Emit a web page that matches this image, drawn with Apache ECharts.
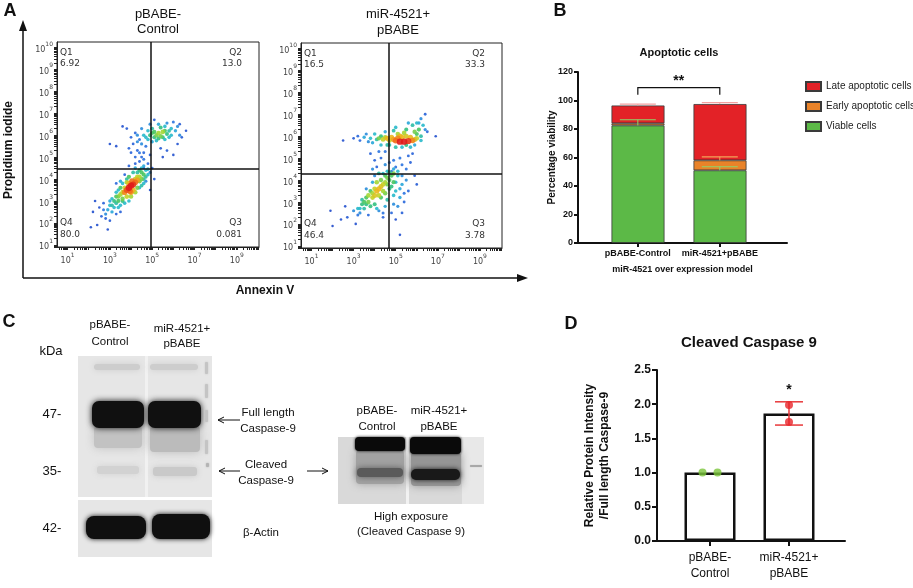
<!DOCTYPE html>
<html><head><meta charset="utf-8">
<script src="https://cdn.jsdelivr.net/npm/echarts@6/dist/echarts.min.js"></script>
<style>html,body{margin:0;padding:0;background:#fff}#c{width:913px;height:588px}</style>
</head><body><div id="c"></div>
<script>
// ---------- DATA ----------
// Panel A: flow cytometry events, [log10 Annexin V, log10 PI, relative density]
const flowControl = [
[2.1,1.8,0.05],[2.4,1.9,0.05],[2.9,1.7,0.05],[2.2,2.5,0.05],[2.5,2.7,0.05],[2.6,2.3,0.1],[2.8,2.2,0.1],[2.7,2.9,0.1],[3.3,2.4,0.1],[3.5,2.5,0.1],[3.0,2.1,0.08],[4.9,3.5,0.05],[5.1,4.0,0.08],[5.0,4.5,0.1],[3.9,4.6,0.1],[3.3,3.8,0.12],[4.8,4.7,0.12],[3.0,5.6,0.05],[3.3,5.5,0.05],[3.6,6.4,0.05],[3.8,6.3,0.08],[4.0,5.2,0.1],[4.2,4.7,0.1],[4.1,5.6,0.1],[4.3,5.3,0.12],[4.5,5.0,0.12],[4.4,4.8,0.1],[4.6,5.2,0.12],[4.7,5.5,0.15],[5.5,5.0,0.05],[5.7,5.3,0.08],[6.0,5.1,0.05],[6.3,6.5,0.08],[6.4,5.9,0.08],[6.6,6.2,0.05],[6.2,5.6,0.06],[5.1,6.7,0.1],[4.2,6.1,0.12],[4.4,5.8,0.15],[4.0,5.9,0.1],[4.6,4.5,0.1],[3.7,4.2,0.1],[5.4,5.4,0.08],[2.3,3.0,0.05],
[2.9,2.6,0.25],[3.0,2.8,0.3],[3.1,3.1,0.3],[3.2,2.7,0.3],[3.7,2.9,0.3],[3.6,3.8,0.3],[4.4,3.6,0.3],[4.6,3.8,0.3],[4.7,4.4,0.3],[4.8,4.2,0.3],[4.5,4.5,0.3],[4.3,4.3,0.35],[3.4,3.5,0.3],[3.9,3.0,0.3],[4.1,4.3,0.35],[3.5,2.8,0.3],[3.3,2.9,0.35],[4.6,4.0,0.35],[3.8,4.0,0.35],
[4.6,6.0,0.3],[4.8,6.2,0.3],[5.0,6.3,0.35],[5.9,6.3,0.3],[6.1,6.2,0.25],[5.8,5.9,0.3],[5.0,5.7,0.25],[4.9,6.5,0.2],[5.3,6.5,0.25],[5.7,6.55,0.2],[6.0,6.6,0.15],[4.7,5.9,0.3],[5.2,5.75,0.3],[5.6,5.8,0.3],[4.5,6.3,0.2],[6.3,6.0,0.2],
[3.5,3.3,0.55],[3.6,3.1,0.5],[4.4,4.1,0.55],[4.5,4.0,0.5],[3.4,3.0,0.45],[3.8,3.85,0.55],[4.2,3.4,0.55],[4.6,4.2,0.45],[3.3,3.2,0.45],[4.0,3.2,0.55],[3.7,3.6,0.6],[4.3,4.1,0.6],
[5.3,6.1,0.55],[5.5,6.15,0.55],[5.2,6.0,0.5],[5.6,6.2,0.45],[5.4,5.95,0.5],[5.1,6.15,0.45],
[3.7,3.4,0.8],[4.3,3.95,0.75],[3.8,3.5,0.9],[4.2,3.85,0.85],[3.95,3.45,0.85],[4.05,3.9,0.85],[4.1,3.75,0.95],[3.9,3.6,1],[4.0,3.7,1],
[3.2,3.0,0.4],[3.4,3.2,0.5],[3.5,3.6,0.45],[3.6,3.4,0.6],[3.9,3.8,0.7],[4.1,3.5,0.7],[4.2,4.0,0.6],[4.4,3.9,0.5],[4.5,4.3,0.45],[4.7,4.1,0.35],[4.8,4.45,0.3],[4.6,4.6,0.25],[4.9,4.3,0.2],[3.0,3.0,0.25],[2.8,2.4,0.2],[3.1,2.5,0.25],[3.4,2.7,0.3],[3.8,3.2,0.6],[4.0,3.4,0.75],[3.6,3.0,0.4],[4.3,3.6,0.5],[4.5,3.7,0.35],[3.9,4.1,0.45],[3.5,3.9,0.25],[4.2,4.5,0.25],[4.4,4.4,0.4],[3.3,3.4,0.3],[2.7,2.6,0.15],[3.1,2.8,0.35],[4.7,3.9,0.2],
[4.9,6.0,0.4],[5.1,5.9,0.4],[5.3,5.85,0.4],[5.5,5.9,0.4],[5.7,6.05,0.4],[5.8,6.2,0.35],[5.4,6.35,0.4],[5.0,6.1,0.45],[4.8,5.8,0.3],[5.6,6.4,0.3],[6.2,6.4,0.2],[4.3,6.0,0.2],[4.5,5.6,0.2],[4.3,5.7,0.2],[5.9,6.0,0.3],
[4.4,5.2,0.15],[4.6,4.9,0.15],[4.2,5.0,0.12],[3.9,5.4,0.1],[4.9,5.1,0.1]
];
const flowMiR = [
[1.9,2.6,0.03],[2.0,1.9,0.03],[2.4,2.2,0.05],[2.7,2.3,0.08],[2.6,2.8,0.05],[3.1,2.0,0.05],[5.0,2.2,0.05],[5.2,1.5,0.05],[2.5,5.8,0.05],[6.9,6.0,0.05],[3.0,5.9,0.08],[3.3,5.8,0.12],[6.4,7.0,0.1],[6.5,6.2,0.12],[5.4,3.0,0.12],[5.6,3.5,0.12],[4.8,2.5,0.12],[3.7,2.4,0.12],[5.7,4.8,0.1],[3.8,5.2,0.1],[4.1,4.6,0.1],[4.3,5.0,0.12],[4.7,4.8,0.15],[5.0,4.6,0.15],[5.2,5.0,0.15],[5.5,4.5,0.15],[4.8,4.4,0.15],[4.5,5.3,0.15],[5.9,4.2,0.1],[5.3,2.5,0.1],[4.4,2.3,0.1],[5.8,5.2,0.1],[4.0,4.9,0.1],[6.0,3.8,0.08],
[3.2,2.7,0.3],[3.3,2.5,0.2],[3.0,2.6,0.2],[5.0,3.5,0.3],[5.2,3.2,0.25],[5.3,3.8,0.25],[5.5,4.0,0.2],[5.1,2.8,0.2],[4.5,2.8,0.25],[4.2,2.6,0.2],[5.1,4.2,0.3],[4.4,4.3,0.3],[3.9,3.9,0.25],[4.0,4.2,0.2],[3.6,3.6,0.2],[4.9,4.5,0.25],[4.6,4.4,0.3],
[3.8,5.9,0.3],[3.5,5.95,0.25],[4.0,6.1,0.3],[4.3,5.6,0.3],[4.7,5.6,0.35],[5.0,5.5,0.35],[5.3,5.5,0.3],[5.7,5.5,0.3],[6.2,5.8,0.3],[6.3,6.5,0.3],[6.2,6.8,0.2],[5.8,6.5,0.35],[5.5,6.3,0.4],[4.9,6.25,0.35],[4.5,6.2,0.25],[6.0,6.6,0.3],[3.9,5.7,0.25],
[3.7,3.0,0.5],[3.6,3.2,0.45],[4.6,4.1,0.5],[4.8,4.2,0.45],[4.9,3.9,0.45],[4.7,3.6,0.4],[3.8,3.5,0.45],[4.3,3.2,0.45],[3.4,2.9,0.4],[3.5,2.7,0.35],[4.0,2.9,0.4],[4.9,4.3,0.5],[4.5,3.4,0.5],
[4.6,5.9,0.7],[4.8,5.95,0.7],[5.2,6.0,0.7],[5.5,6.0,0.65],[6.0,5.9,0.6],[4.4,5.85,0.6],[4.2,5.9,0.5],[5.9,6.2,0.5],[6.1,6.3,0.45],
[4.1,3.5,0.7],[4.2,3.6,0.7],[4.3,3.7,0.65],[4.0,3.3,0.65],[4.4,3.8,0.6],[3.9,3.2,0.6],[4.5,3.9,0.55],
[5.0,5.8,0.85],[5.8,5.8,0.8],[5.6,5.78,0.95],[5.2,5.75,1],[5.4,5.75,1],
[3.5,3.0,0.45],[3.7,3.3,0.55],[3.8,2.8,0.4],[4.0,3.6,0.6],[4.1,3.9,0.55],[4.2,3.3,0.6],[4.4,3.5,0.55],[4.6,3.8,0.5],[4.7,4.0,0.45],[4.8,3.7,0.4],[4.3,4.0,0.5],[3.9,3.4,0.55],[3.3,2.7,0.3],[3.4,3.1,0.35],[4.1,2.7,0.3],[4.6,3.1,0.35],[4.9,3.3,0.3],[5.0,3.9,0.3],[5.2,3.6,0.25],[5.3,4.2,0.2],[4.9,2.9,0.2],[4.7,4.35,0.4],[4.5,4.2,0.45],[4.2,4.3,0.35],[3.9,4.5,0.2],[3.6,2.9,0.4],[4.4,2.5,0.15],[5.1,4.4,0.3],[5.4,3.4,0.15],[3.2,2.4,0.15],
[4.5,5.95,0.55],[4.7,5.8,0.6],[4.9,5.85,0.75],[5.1,5.9,0.8],[5.3,5.95,0.7],[5.7,5.95,0.7],[5.9,5.85,0.65],[5.4,6.15,0.55],[5.1,6.1,0.55],[4.3,6.0,0.4],[4.1,5.85,0.35],[3.7,5.75,0.2],[3.6,6.1,0.2],[6.0,6.1,0.45],[6.2,6.0,0.35],[6.4,6.3,0.2],[5.6,6.6,0.25],[6.1,6.6,0.25],[5.0,6.4,0.3],[4.6,5.6,0.35],[5.5,5.6,0.4],[5.9,5.6,0.25],[3.2,6.0,0.12],
[4.5,4.7,0.2],[4.9,4.9,0.15],[5.3,4.7,0.15],[4.2,5.3,0.15],[5.6,5.1,0.12]
];
const gateControl = [4.95, 4.49];   // [Annexin V gate, PI gate] in log10
const gateMiR = [4.67, 4.27];
const quadNames = ['Q1','Q2','Q3','Q4'];
const quadControl = ['6.92','13.0','0.081','80.0'];
const quadMiR = ['16.5','33.3','3.78','46.4'];
const flowXLabels = [1,3,5,7,9];
const flowYLabels = [1,2,3,4,5,6,7,8,9,10];

// Panel B
const bCategories = ['pBABE-Control','miR-4521+pBABE'];
const viable = [82.5, 51.0];
const early = [1.5, 7.0];
const late = [12.5, 39.5];
const viableSD = [4.0, 2.5];
const earlySD = [0, 2.5];
const lateSD = [1.0, 1.0];
const bSig = [[1, 2, 109, '**']];

// Panel D
const dCategories = ['pBABE-\nControl','miR-4521+\npBABE'];
const dMean = [1.0, 1.865];
const dSD = [0, 0.17];
const dPoints = [[1.0, 1.0], [1.99, 1.74]];
const dSig = ['', '*'];

// ---------- CHART ----------
const chart = echarts.init(document.getElementById('c'));
const SANS = 'Liberation Sans, Arial, Helvetica, sans-serif';
const FLOWF = 'DejaVu Sans, sans-serif';
const byDensity = a => a.slice().sort((p,q)=>p[2]-q[2]);

function decadeTicks(min, max){
  const t=[];
  for(let n=0;n<=10;n++){ for(let k=1;k<=9;k++){ const v=n+Math.log10(k); if(v>=min&&v<=max) t.push(v);} }
  return t;
}
const supRich = {
  b:{fontSize:8, color:'#444', fontFamily:FLOWF, lineHeight:13, verticalAlign:'bottom'},
  s:{fontSize:6, color:'#444', fontFamily:FLOWF, lineHeight:13, verticalAlign:'top'}
};
const sup = v => '{b|10}{s|' + Math.round(v) + '}';

const FX = [0.5, 10.05], FY = [0.9, 10.25];
function flowXAxis(g){
  return {type:'value', gridIndex:g, min:FX[0], max:FX[1],
    axisLine:{show:true,onZero:false,lineStyle:{color:'#222',width:1}},
    axisTick:{show:true, customValues:decadeTicks(FX[0],FX[1]), length:3, lineStyle:{color:'#222'}},
    axisLabel:{customValues:flowXLabels, formatter:sup, rich:supRich, margin:5},
    splitLine:{show:false}};
}
function flowYAxis(g){
  return {type:'value', gridIndex:g, min:FY[0], max:FY[1],
    axisLine:{show:true,onZero:false,lineStyle:{color:'#222',width:1}},
    axisTick:{show:true, customValues:decadeTicks(FY[0],FY[1]), length:3, lineStyle:{color:'#222'}},
    axisLabel:{customValues:flowYLabels, formatter:sup, rich:supRich, margin:4},
    splitLine:{show:false}};
}
function flowSeries(data, gate, idx){
  return {type:'scatter', xAxisIndex:idx, yAxisIndex:idx, data:byDensity(data),
    symbolSize: v => 2.4 + v[2]*4, itemStyle:{opacity:0.9}, silent:true,
    markLine:{symbol:'none', silent:true, animation:false, label:{show:false},
      lineStyle:{color:'#111', width:1.5, type:'solid'},
      data:[{xAxis:gate[0]},{yAxis:gate[1]}]}};
}

const boldAxisName = {fontFamily:SANS, fontWeight:'bold', fontSize:9, color:'#111'};

// Panel B error bars from stacked tops
const cum1 = viable.map((v,i)=>v+early[i]);
const cum2 = cum1.map((v,i)=>v+late[i]);
const bErr = [];
viable.forEach((v,i)=>{ if(viableSD[i]>0) bErr.push([i+1, v, v+viableSD[i], 0]); });
cum1.forEach((v,i)=>{ if(earlySD[i]>0) bErr.push([i+1, v, v+earlySD[i], 1]); });
cum2.forEach((v,i)=>{ if(lateSD[i]>0) bErr.push([i+1, v, v+lateSD[i], 2]); });
const errCol = ['#8fd46a','#f2a35a','#f4a0a0'];
const bBar = {type:'bar', xAxisIndex:4, yAxisIndex:4, stack:'b', barWidth:53};

const option = {
  animation:false,
  backgroundColor:'#fff',
  grid:[
    {left:57, top:42, width:202, height:205, show:true, borderColor:'#222', borderWidth:1},
    {left:301, top:43, width:201, height:205, show:true, borderColor:'#222', borderWidth:1},
    {left:578, top:72, width:209, height:171},
    {left:657, top:370, width:188, height:171},
    {left:597, top:72, width:164, height:171}
  ],
  xAxis:[
    flowXAxis(0), flowXAxis(1),
    {type:'value', gridIndex:2, min:0.27, max:2.82,
      axisLine:{show:true,onZero:false,lineStyle:{color:'#111',width:2}},
      axisTick:{show:true, customValues:[1,2], length:4, lineStyle:{color:'#111',width:2}},
      axisLabel:{customValues:[1,2], formatter:v=>bCategories[Math.round(v)-1], fontFamily:SANS, fontWeight:'bold', fontSize:9, color:'#111', margin:6},
      splitLine:{show:false},
      name:'miR-4521 over expression model', nameLocation:'middle', nameGap:22, nameTextStyle:boldAxisName},
    {type:'value', gridIndex:3, min:0.329, max:2.709,
      axisLine:{show:true,onZero:false,lineStyle:{color:'#111',width:2}},
      axisTick:{show:true, customValues:[1,2], length:5, lineStyle:{color:'#111',width:2}},
      axisLabel:{customValues:[1,2], formatter:v=>dCategories[Math.round(v)-1], fontFamily:SANS, fontSize:12, lineHeight:16, color:'#111', margin:9},
      splitLine:{show:false}},
    {type:'category', gridIndex:4, data:bCategories, show:false}
  ],
  yAxis:[
    flowYAxis(0), flowYAxis(1),
    {type:'value', gridIndex:2, min:0, max:120, interval:20,
      axisLine:{show:true,lineStyle:{color:'#111',width:2}},
      axisTick:{show:true, length:4, lineStyle:{color:'#111',width:2}},
      axisLabel:{fontFamily:SANS, fontWeight:'bold', fontSize:9, color:'#111', margin:5},
      splitLine:{show:false},
      name:'Percentage viability', nameLocation:'middle', nameGap:21, nameMoveOverlap:false,
      nameTextStyle:{fontFamily:SANS, fontWeight:'bold', fontSize:10, color:'#111'}},
    {type:'value', gridIndex:3, min:0, max:2.5, interval:0.5,
      axisLine:{show:true,lineStyle:{color:'#111',width:2}},
      axisTick:{show:true, length:5, lineStyle:{color:'#111',width:2}},
      axisLabel:{fontFamily:SANS, fontWeight:'bold', fontSize:12, color:'#111', margin:6, formatter:v=>v.toFixed(1)},
      splitLine:{show:false},
      name:'Relative Protein Intensity\n/Full length Caspase-9', nameLocation:'middle', nameGap:45,
      nameTextStyle:{fontFamily:SANS, fontWeight:'bold', fontSize:12, color:'#111', lineHeight:15}},
    {type:'value', gridIndex:4, min:0, max:120, show:false, splitLine:{show:false}}
  ],
  visualMap:{show:false, type:'continuous', seriesIndex:[0,1], dimension:2, min:0, max:1,
    inRange:{color:['#1c3fc4','#2a6fe0','#27b8d6','#35c26a','#b7d92b','#f2b21c','#f26a1c','#e01b1b']}},
  legend:{orient:'vertical', left:800, top:76, itemWidth:15, itemHeight:9, itemGap:9,
    data:['Late apoptotic cells','Early apoptotic cells','Viable cells'],
    textStyle:{fontFamily:SANS, fontSize:10, color:'#222'}, icon:'rect'},
  series:[
    flowSeries(flowControl, gateControl, 0),
    flowSeries(flowMiR, gateMiR, 1),
    Object.assign({name:'Viable cells', data:viable, itemStyle:{color:'#5cb947', borderColor:'#3a3a3a', borderWidth:0.8}}, bBar),
    Object.assign({name:'Early apoptotic cells', data:early, itemStyle:{color:'#e98329', borderColor:'#3a3a3a', borderWidth:0.8}}, bBar),
    Object.assign({name:'Late apoptotic cells', data:late, itemStyle:{color:'#e32227', borderColor:'#3a3a3a', borderWidth:0.8}}, bBar),
    {type:'custom', xAxisIndex:2, yAxisIndex:2, data:bErr, silent:true, z:5,
      renderItem:(p,api)=>{
        const x=api.value(0), lo=api.coord([x,api.value(1)]), hi=api.coord([x,api.value(2)]);
        const c=errCol[api.value(3)];
        return {type:'group', children:[
          {type:'line', shape:{x1:lo[0],y1:lo[1],x2:hi[0],y2:hi[1]}, style:{stroke:c,lineWidth:1}},
          {type:'line', shape:{x1:hi[0]-18,y1:hi[1],x2:hi[0]+18,y2:hi[1]}, style:{stroke:c,lineWidth:1.2}}
        ]};
      }},
    {type:'custom', xAxisIndex:2, yAxisIndex:2, data:bSig, silent:true,
      renderItem:(p,api)=>{
        const a=api.coord([api.value(0),api.value(2)]), b=api.coord([api.value(1),api.value(2)]);
        return {type:'group', children:[
          {type:'polyline', shape:{points:[[a[0],a[1]+7],[a[0],a[1]],[b[0],a[1]],[b[0],b[1]+7]]}, style:{stroke:'#111',lineWidth:1.2,fill:null}},
          {type:'text', x:(a[0]+b[0])/2, y:a[1]-7, style:{text:bSig[p.dataIndex][3], align:'center', verticalAlign:'middle', font:'bold 14px '+SANS, fill:'#111'}}
        ]};
      }},
    {type:'bar', xAxisIndex:3, yAxisIndex:3, barWidth:51, data:dMean.map((v,i)=>[i+1,v]),
      itemStyle:{color:'#fff', borderColor:'#111', borderWidth:2.5}},
    {type:'custom', xAxisIndex:3, yAxisIndex:3, data:dMean.map((v,i)=>[i+1, v-dSD[i], v+dSD[i]]).filter((d,i)=>dSD[i]>0), silent:true, z:5,
      renderItem:(p,api)=>{
        const x=api.value(0), lo=api.coord([x,api.value(1)]), hi=api.coord([x,api.value(2)]);
        return {type:'group', children:[
          {type:'line', shape:{x1:lo[0],y1:lo[1],x2:hi[0],y2:hi[1]}, style:{stroke:'#e8383a',lineWidth:1.5}},
          {type:'line', shape:{x1:lo[0]-14,y1:lo[1],x2:lo[0]+14,y2:lo[1]}, style:{stroke:'#e8383a',lineWidth:1.5}},
          {type:'line', shape:{x1:hi[0]-14,y1:hi[1],x2:hi[0]+14,y2:hi[1]}, style:{stroke:'#e8383a',lineWidth:1.5}}
        ]};
      }},
    {type:'scatter', xAxisIndex:3, yAxisIndex:3, symbolSize:8, z:6,
      data:dPoints[0].map((v,j)=>[1+(j===0?-0.095:0.095), v]), itemStyle:{color:'#7cc63c'}},
    {type:'scatter', xAxisIndex:3, yAxisIndex:3, symbolSize:8, z:6,
      data:dPoints[1].map(v=>[2, v]), itemStyle:{color:'#e8252a'}},
    {type:'custom', xAxisIndex:3, yAxisIndex:3, silent:true,
      data:dMean.map((v,i)=>[i+1, v+dSD[i]]).filter((d,i)=>dSig[i]),
      renderItem:(p,api)=>{
        const c=api.coord([api.value(0),api.value(1)]);
        return {type:'text', x:c[0], y:c[1]-12, style:{text:'*', align:'center', verticalAlign:'middle', font:'bold 14px '+SANS, fill:'#111'}};
      }}
  ]
};
chart.setOption(option);

// ---------- ANNOTATIONS ----------
const G = [];
function T(text,x,y,font,opt){ opt=opt||{}; G.push({type:'text', x:x, y:y, rotation:opt.rot||0, z:50,
  style:{text:text, font:font, fill:opt.fill||'#111', align:opt.align||'center', verticalAlign:'middle'}}); }
function R(x,y,w,h,fill,blur,r,z){ G.push({type:'rect', z:z||10, shape:{x:x,y:y,width:w,height:h,r:r||0},
  style:{fill:fill, shadowBlur:blur||0, shadowColor:fill}}); }
function L(x1,y1,x2,y2,w,c){ G.push({type:'line', z:40, shape:{x1,y1,x2,y2}, style:{stroke:c||'#111', lineWidth:w||1}}); }
function Arrow(x1,y,x2,c){ L(x1,y,x2,y,1,c); const d=x2>x1?-1:1; G.push({type:'polyline', z:40, shape:{points:[[x2+6*d,y-3],[x2,y],[x2+6*d,y+3]]}, style:{stroke:c||'#111',lineWidth:1,fill:null}}); }

// panel letters
T('A',10,11,'bold 18px '+SANS);
T('B',560,11,'bold 18px '+SANS);
T('C',9,322,'bold 18px '+SANS);
T('D',571,324,'bold 18px '+SANS);

// Panel A frame arrows
L(23,278,23,30,1.5);
G.push({type:'polygon', z:40, shape:{points:[[23,20],[19,31],[27,31]]}, style:{fill:'#111'}});
L(23,278,518,278,1.5);
G.push({type:'polygon', z:40, shape:{points:[[528,278],[517,274],[517,282]]}, style:{fill:'#111'}});
T('Propidium iodide',9,150,'bold 12px '+SANS,{rot:Math.PI/2});
T('Annexin V',265,291,'bold 12px '+SANS);
T('pBABE-',158,14,'13px '+SANS); T('Control',158,29,'13px '+SANS);
T('miR-4521+',398,14,'13px '+SANS); T('pBABE',398,30,'13px '+SANS);

// quadrant stats, anchored to grid corners
[[0,quadControl],[1,quadMiR]].forEach(([g,vals])=>{
  const tl=chart.convertToPixel({gridIndex:g},[FX[0],FY[1]]);
  const br=chart.convertToPixel({gridIndex:g},[FX[1],FY[0]]);
  const f='9px '+FLOWF, c='#333';
  T(quadNames[0],tl[0]+3,tl[1]+11,f,{align:'left',fill:c}); T(vals[0],tl[0]+3,tl[1]+22,f,{align:'left',fill:c});
  T(quadNames[1],br[0]-17,tl[1]+11,f,{align:'right',fill:c}); T(vals[1],br[0]-17,tl[1]+22,f,{align:'right',fill:c});
  T(quadNames[3],tl[0]+3,br[1]-24,f,{align:'left',fill:c}); T(vals[3],tl[0]+3,br[1]-12,f,{align:'left',fill:c});
  T(quadNames[2],br[0]-17,br[1]-24,f,{align:'right',fill:c}); T(vals[2],br[0]-17,br[1]-12,f,{align:'right',fill:c});
});

// Panel B/D titles
T('Apoptotic cells',679,53,'bold 11px '+SANS);
T('Cleaved Caspase 9',749,343,'bold 15px '+SANS);

// Panel C labels
const f11='11.5px '+SANS;
T('pBABE-',110,325,f11); T('Control',110,342,f11);
T('miR-4521+',182,329,f11); T('pBABE',182,344,f11);
T('kDa',51,351,'13px '+SANS);
T('47-',52,414,'13px '+SANS); T('35-',52,471,'13px '+SANS); T('42-',52,528,'13px '+SANS);
T('Full length',268,413,f11); T('Caspase-9',268,429,f11);
T('Cleaved',266,465,f11); T('Caspase-9',266,481,f11);
T('β-Actin',261,533,f11);
Arrow(240,420,218); Arrow(240,471,219); Arrow(307,471,328);
T('pBABE-',377,411,f11); T('Control',377,427,f11);
T('miR-4521+',439,411,f11); T('pBABE',439,427,f11);
T('High exposure',411,517,f11); T('(Cleaved Caspase 9)',411,532,f11);

// western blot (main)
R(78,356,134,141,'#e6e6e6',0,0,5);
R(145,356,3,141,'#f1f1f1',0,0,6);
R(94,364,46,6,'#cdcdcd',6,3,7); R(150,364,48,6,'#cdcdcd',6,3,7);
R(94,426,48,22,'#c2c2c2',10,4,7); R(150,426,50,26,'#bbbbbb',10,4,7);
R(97,466,42,8,'#d2d2d2',6,3,7); R(153,467,44,9,'#c9c9c9',6,3,7);
R(92,401,52,27,'#101010',6,7,8); R(148,401,53,27,'#101010',6,7,8);
R(205,362,3,12,'#c4c4c4',2,1,8); R(205,384,3,14,'#c4c4c4',2,1,8); R(205,410,3,12,'#c4c4c4',2,1,8); R(205,440,3,14,'#c4c4c4',2,1,8); R(206,463,3,4,'#b4b4b4',2,1,8);
// actin
R(78,500,134,57,'#e6e6e6',0,0,5);
R(86,516,60,23,'#0f0f0f',5,8,8); R(152,514,58,25,'#0f0f0f',5,8,8);
// high exposure blot
R(338,437,146,67,'#d9d9d9',0,0,5);
R(462,437,22,67,'#e8e8e8',0,0,6);
R(406,437,3,67,'#f2f2f2',0,0,6);
R(356,450,48,34,'#a2a2a2',8,4,7); R(411,452,50,34,'#959595',8,4,7);
R(357,468,46,9,'#5a5a5a',6,4,8); R(411,469,49,11,'#191919',5,5,8);
R(355,437,50,14,'#0a0a0a',3,4,9); R(410,437,51,17,'#0a0a0a',3,4,9);
R(470,465,12,2,'#a8a8a8',1,1,8);

chart.setOption({graphic:{elements:G}});
</script>
</body></html>
